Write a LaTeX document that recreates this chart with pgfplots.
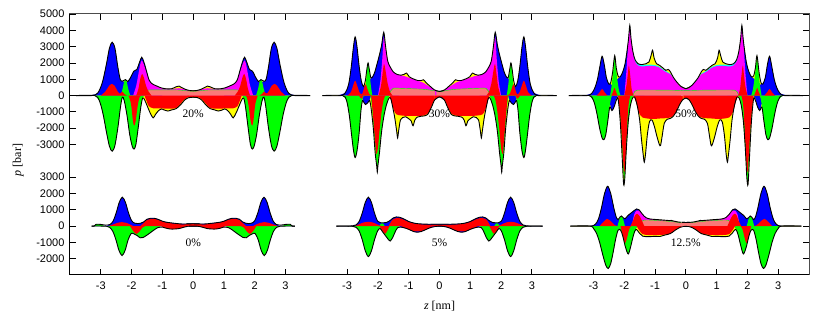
\documentclass[border=0pt]{standalone}
\usepackage{fontspec}
\setmainfont{Liberation Serif}
\setsansfont{Liberation Sans}
\usepackage{pgfplots}
\pgfplotsset{compat=1.18}
\definecolor{salmon}{RGB}{250,120,120}
\definecolor{cY}{RGB}{255,255,0}
\definecolor{cB}{RGB}{0,0,255}
\definecolor{cG}{RGB}{0,255,0}
\definecolor{cR}{RGB}{255,0,0}
\definecolor{cM}{RGB}{255,0,255}
\definecolor{cC}{RGB}{0,255,255}
\newcommand{\FL}[2]{\addplot[fill=#1,draw=none,smooth,tension=0.5] coordinates {#2} \closedcycle;}
\newcommand{\SL}[1]{\addplot[fill=salmon,draw=none,smooth,tension=0.5] coordinates {#1} \closedcycle;\addplot[cG,line width=0.4pt,smooth,tension=0.5] coordinates {#1};}
\newcommand{\OL}[1]{\addplot[black,line width=0.9pt,smooth,tension=0.5] coordinates {#1};}
\pgfplotsset{ov/.style={at={(0,0)},anchor=south west,scale only axis,width=739pt,height=261pt,hide axis,clip=false}}

% ---------- 20% ----------
\newcommand{\PA}{%
\FL{cY}{(-3.8,0)(-3.3,0)(-3.1,150)(-2.95,800)(-2.82,1900)(-2.72,2900)(-2.63,3270)(-2.54,2900)(-2.45,1800)(-2.37,1000)(-2.3,880)(-2.2,980)(-2.12,860)(-2.02,1150)(-1.93,1490)(-1.83,1600)(-1.74,2050)(-1.67,2350)(-1.6,2050)(-1.53,1600)(-1.43,950)(-1.33,720)(-1.2,600)(-1.05,480)(-0.9,420)(-0.7,420)(-0.55,540)(-0.46,580)(-0.36,480)(-0.25,380)(-0.12,310)(0,290)(0.12,310)}
\FL{cY}{(-3.8,0)(-3.2,0)(-3.05,-300)(-2.93,-1100)(-2.82,-2200)(-2.72,-3100)(-2.63,-3410)(-2.54,-3050)(-2.44,-1900)(-2.36,-700)(-2.3,-100)(-2.24,-300)(-2.15,-1200)(-2.06,-2400)(-1.98,-3100)(-1.92,-3280)(-1.86,-3000)(-1.78,-1900)(-1.7,-700)(-1.64,-150)(-1.58,-250)(-1.5,-600)(-1.4,-1050)(-1.3,-1370)(-1.22,-1150)(-1.12,-920)(-1.02,-820)(-0.92,-900)(-0.82,-950)(-0.7,-880)(-0.55,-800)(-0.4,-550)(-0.28,-280)(-0.15,-130)(0,-100)(0.15,-130)}
\FL{cB}{(-3.4,0)(-3.1,150)(-2.95,800)(-2.82,1900)(-2.72,2900)(-2.63,3270)(-2.54,2900)(-2.45,1800)(-2.37,1000)(-2.3,880)(-2.2,820)(-2.12,860)(-2.02,1150)(-1.93,1490)(-1.83,1600)(-1.74,2050)(-1.67,2350)(-1.6,2050)(-1.53,1600)(-1.43,900)(-1.33,600)(-1.2,300)(-1.0,0)}
\FL{cM}{(-1.95,0)(-1.85,600)(-1.78,1300)(-1.72,1900)(-1.67,2150)(-1.61,1950)(-1.53,1500)(-1.43,930)(-1.33,710)(-1.2,590)(-1.05,470)(-0.9,410)(-0.7,410)(-0.55,440)(-0.46,450)(-0.36,420)(-0.25,370)(-0.12,305)(0,285)(0.12,305)}
\FL{cG}{(-2.36,0)(-2.3,350)(-2.24,850)(-2.2,980)(-2.16,850)(-2.1,350)(-2.04,0)}
\FL{cG}{(-3.2,0)(-3.05,-300)(-2.93,-1100)(-2.82,-2200)(-2.72,-3100)(-2.63,-3410)(-2.54,-3050)(-2.44,-1900)(-2.36,-700)(-2.3,-100)(-2.24,-300)(-2.15,-1200)(-2.06,-2400)(-1.98,-3100)(-1.92,-3280)(-1.86,-3000)(-1.78,-1900)(-1.7,-700)(-1.64,-150)(-1.58,0)}
\SL{(-1.6,0)(-1.52,250)(-1.45,340)(-1.2,350)(-0.8,350)(-0.5,340)(-0.3,310)(-0.15,280)(0,270)(0.15,280)}
\FL{cR}{(-3.0,0)(-2.85,250)(-2.72,620)(-2.63,710)(-2.55,600)(-2.45,250)(-2.38,120)(-2.3,245)(-2.24,100)(-2.15,0)}
\FL{cR}{(-1.85,0)(-1.78,400)(-1.72,1000)(-1.66,1330)(-1.6,1100)(-1.53,600)(-1.45,250)(-1.35,0)}
\FL{cR}{(-2.1,0)(-2.02,-500)(-1.96,-1500)(-1.92,-1840)(-1.87,-1600)(-1.8,-600)(-1.74,-100)(-1.68,0)}
\FL{cR}{(-1.58,0)(-1.52,-300)(-1.44,-650)(-1.3,-780)(-1.1,-780)(-0.9,-800)(-0.7,-800)(-0.55,-760)(-0.42,-520)(-0.3,-260)(-0.18,-110)(0,-80)(0.18,-110)}
\OL{(-3.8,0)(-3.3,0)(-3.1,150)(-2.95,800)(-2.82,1900)(-2.72,2900)(-2.63,3270)(-2.54,2900)(-2.45,1800)(-2.37,1000)(-2.3,880)(-2.2,980)(-2.12,860)(-2.02,1150)(-1.93,1490)(-1.83,1600)(-1.74,2050)(-1.67,2350)(-1.6,2050)(-1.53,1600)(-1.43,950)(-1.33,720)(-1.2,600)(-1.05,480)(-0.9,420)(-0.7,420)(-0.55,540)(-0.46,580)(-0.36,480)(-0.25,380)(-0.12,310)(0,290)(0.12,310)}
\OL{(-3.8,0)(-3.2,0)(-3.05,-300)(-2.93,-1100)(-2.82,-2200)(-2.72,-3100)(-2.63,-3410)(-2.54,-3050)(-2.44,-1900)(-2.36,-700)(-2.3,-100)(-2.24,-300)(-2.15,-1200)(-2.06,-2400)(-1.98,-3100)(-1.92,-3280)(-1.86,-3000)(-1.78,-1900)(-1.7,-700)(-1.64,-150)(-1.58,-250)(-1.5,-600)(-1.4,-1050)(-1.3,-1370)(-1.22,-1150)(-1.12,-920)(-1.02,-820)(-0.92,-900)(-0.82,-950)(-0.7,-880)(-0.55,-800)(-0.4,-550)(-0.28,-280)(-0.15,-130)(0,-100)(0.15,-130)}
}

% ---------- 30% ----------
\newcommand{\PB}{%
\FL{cY}{(-3.8,0)(-3.2,0)(-3.05,200)(-2.95,700)(-2.87,1700)(-2.8,2900)(-2.74,3600)(-2.68,3000)(-2.61,1800)(-2.54,900)(-2.47,550)(-2.41,900)(-2.36,1600)(-2.32,2000)(-2.28,1600)(-2.23,1100)(-2.17,1150)(-2.1,1450)(-2.02,2000)(-1.95,2500)(-1.88,3100)(-1.81,3880)(-1.75,3000)(-1.68,2100)(-1.6,1750)(-1.5,1450)(-1.38,1300)(-1.25,1250)(-1.15,1300)(-1.07,1380)(-0.98,1150)(-0.85,1020)(-0.7,920)(-0.6,920)(-0.52,970)(-0.44,800)(-0.3,560)(-0.15,330)(0,250)(0.15,330)}
\FL{cY}{(-3.8,0)(-3.15,0)(-3.02,-300)(-2.93,-1200)(-2.85,-2500)(-2.79,-3400)(-2.74,-3800)(-2.68,-3400)(-2.61,-2300)(-2.55,-900)(-2.5,-300)(-2.45,-450)(-2.4,-550)(-2.33,-450)(-2.27,-300)(-2.22,-800)(-2.15,-2000)(-2.09,-3500)(-2.04,-4300)(-2.02,-4700)(-2.0,-4300)(-1.95,-3500)(-1.88,-2200)(-1.8,-1200)(-1.72,-550)(-1.64,-150)(-1.58,-200)(-1.5,-900)(-1.45,-1400)(-1.39,-2200)(-1.36,-2600)(-1.33,-2200)(-1.27,-1500)(-1.2,-1350)(-1.1,-1300)(-0.98,-1450)(-0.92,-1550)(-0.86,-1850)(-0.8,-1500)(-0.72,-1320)(-0.6,-1270)(-0.5,-1250)(-0.38,-1150)(-0.27,-750)(-0.15,-250)(0,-80)(0.15,-250)}
\FL{cB}{(-3.3,0)(-3.05,200)(-2.95,700)(-2.87,1700)(-2.8,2900)(-2.74,3600)(-2.68,3000)(-2.61,1800)(-2.54,900)(-2.47,550)(-2.41,600)(-2.35,700)(-2.28,800)(-2.23,1100)(-2.17,1150)(-2.1,1450)(-2.02,2000)(-1.95,2500)(-1.88,3100)(-1.81,3880)(-1.76,2700)(-1.69,1800)(-1.6,1400)(-1.5,1000)(-1.4,500)(-1.3,0)}
\FL{cB}{(-2.55,0)(-2.5,-200)(-2.45,-450)(-2.4,-550)(-2.33,-450)(-2.27,-250)(-2.22,0)}
\FL{cM}{(-2.0,0)(-1.92,900)(-1.86,2200)(-1.81,3600)(-1.76,2950)(-1.68,2100)(-1.6,1750)(-1.5,1450)(-1.38,1300)(-1.25,1240)(-1.15,1200)(-1.07,1150)(-0.98,1080)(-0.85,1000)(-0.7,900)(-0.6,850)(-0.52,780)(-0.44,680)(-0.3,520)(-0.15,330)(0,250)(0.15,330)}
\FL{cG}{(-2.45,0)(-2.4,500)(-2.36,1500)(-2.32,2000)(-2.28,1500)(-2.23,600)(-2.18,0)}
\FL{cG}{(-3.15,0)(-3.02,-300)(-2.93,-1200)(-2.85,-2500)(-2.79,-3400)(-2.74,-3800)(-2.68,-3400)(-2.61,-2300)(-2.55,-900)(-2.5,-200)(-2.45,0)}
\FL{cG}{(-2.25,0)(-2.2,-600)(-2.14,-2000)(-2.08,-3400)(-2.03,-4400)(-2.0,-4200)(-1.95,-3400)(-1.88,-2150)(-1.8,-1150)(-1.72,-520)(-1.65,-100)(-1.6,0)}
\SL{(-1.65,0)(-1.58,300)(-1.5,450)(-1.2,440)(-0.8,410)(-0.5,380)(-0.25,320)(-0.1,260)(0,230)(0.1,260)}
\FL{cR}{(-3.0,0)(-2.88,200)(-2.8,650)(-2.74,920)(-2.68,650)(-2.6,200)(-2.52,80)(-2.45,450)(-2.4,700)(-2.35,450)(-2.28,100)(-2.2,0)}
\FL{cR}{(-1.98,0)(-1.9,600)(-1.84,1500)(-1.8,1940)(-1.75,1500)(-1.68,700)(-1.6,200)(-1.52,0)}
\FL{cR}{(-2.62,0)(-2.56,-150)(-2.52,-200)(-2.48,0)}
\FL{cR}{(-2.22,0)(-2.16,-1200)(-2.1,-2600)(-2.05,-3580)(-2.0,-3200)(-1.95,-2200)(-1.88,-1000)(-1.82,-300)(-1.76,0)}
\FL{cR}{(-1.62,0)(-1.56,-400)(-1.48,-900)(-1.4,-1150)(-1.25,-1220)(-1.0,-1250)(-0.7,-1250)(-0.5,-1220)(-0.38,-1100)(-0.27,-700)(-0.15,-230)(0,-70)(0.15,-230)}
\OL{(-3.8,0)(-3.2,0)(-3.05,200)(-2.95,700)(-2.87,1700)(-2.8,2900)(-2.74,3600)(-2.68,3000)(-2.61,1800)(-2.54,900)(-2.47,550)(-2.41,900)(-2.36,1600)(-2.32,2000)(-2.28,1600)(-2.23,1100)(-2.17,1150)(-2.1,1450)(-2.02,2000)(-1.95,2500)(-1.88,3100)(-1.81,3880)(-1.75,3000)(-1.68,2100)(-1.6,1750)(-1.5,1450)(-1.38,1300)(-1.25,1250)(-1.15,1300)(-1.07,1380)(-0.98,1150)(-0.85,1020)(-0.7,920)(-0.6,920)(-0.52,970)(-0.44,800)(-0.3,560)(-0.15,330)(0,250)(0.15,330)}
\OL{(-3.8,0)(-3.15,0)(-3.02,-300)(-2.93,-1200)(-2.85,-2500)(-2.79,-3400)(-2.74,-3800)(-2.68,-3400)(-2.61,-2300)(-2.55,-900)(-2.5,-300)(-2.45,-450)(-2.4,-550)(-2.33,-450)(-2.27,-300)(-2.22,-800)(-2.15,-2000)(-2.09,-3500)(-2.04,-4300)(-2.02,-4700)(-2.0,-4300)(-1.95,-3500)(-1.88,-2200)(-1.8,-1200)(-1.72,-550)(-1.64,-150)(-1.58,-200)(-1.5,-900)(-1.45,-1400)(-1.39,-2200)(-1.36,-2600)(-1.33,-2200)(-1.27,-1500)(-1.2,-1350)(-1.1,-1300)(-0.98,-1450)(-0.92,-1550)(-0.86,-1850)(-0.8,-1500)(-0.72,-1320)(-0.6,-1270)(-0.5,-1250)(-0.38,-1150)(-0.27,-750)(-0.15,-250)(0,-80)(0.15,-250)}
}

% ---------- 50% ----------
\newcommand{\PC}{%
\FL{cY}{(-3.8,0)(-3.2,0)(-3.05,150)(-2.95,500)(-2.87,1000)(-2.79,1800)(-2.72,2410)(-2.65,1900)(-2.58,1100)(-2.5,700)(-2.44,800)(-2.38,1400)(-2.31,2450)(-2.26,1700)(-2.2,1200)(-2.13,1150)(-2.05,1450)(-1.98,1900)(-1.92,2600)(-1.86,3500)(-1.82,4300)(-1.78,3500)(-1.72,2700)(-1.65,2200)(-1.55,1950)(-1.42,1900)(-1.3,1950)(-1.2,2050)(-1.13,2450)(-1.08,2780)(-1.03,2300)(-0.95,1950)(-0.85,1850)(-0.75,1700)(-0.65,1550)(-0.57,1600)(-0.5,1450)(-0.4,1100)(-0.28,800)(-0.15,550)(0,420)(0.15,550)}
\FL{cY}{(-3.8,0)(-3.15,0)(-3.0,-300)(-2.9,-1000)(-2.8,-2000)(-2.72,-2600)(-2.66,-2700)(-2.6,-2400)(-2.53,-1500)(-2.47,-700)(-2.4,-920)(-2.33,-700)(-2.26,-300)(-2.2,-200)(-2.13,-1600)(-2.07,-3700)(-2.03,-5200)(-2.01,-5500)(-1.98,-5000)(-1.93,-3200)(-1.87,-1600)(-1.8,-600)(-1.73,-150)(-1.66,-100)(-1.58,-600)(-1.5,-1500)(-1.44,-2700)(-1.38,-3700)(-1.35,-4090)(-1.31,-3600)(-1.25,-2400)(-1.18,-1600)(-1.1,-1500)(-1.02,-1900)(-0.94,-2500)(-0.86,-3000)(-0.82,-3050)(-0.77,-2500)(-0.7,-1700)(-0.6,-1450)(-0.5,-1400)(-0.4,-1250)(-0.3,-950)(-0.2,-550)(-0.1,-250)(0,-150)(0.1,-250)}
\FL{cB}{(-3.3,0)(-3.05,150)(-2.95,500)(-2.87,1000)(-2.79,1800)(-2.72,2410)(-2.65,1900)(-2.58,1100)(-2.5,700)(-2.44,700)(-2.38,600)(-2.3,700)(-2.23,1000)(-2.13,1150)(-2.05,1450)(-1.98,1900)(-1.92,2600)(-1.86,3500)(-1.82,4300)(-1.78,3400)(-1.72,2400)(-1.65,1800)(-1.55,1300)(-1.45,700)(-1.35,0)}
\FL{cB}{(-2.55,0)(-2.48,-400)(-2.4,-920)(-2.33,-700)(-2.26,-200)(-2.2,0)}
\FL{cC}{(-1.72,2650)(-1.65,2180)(-1.55,1940)(-1.42,1880)(-1.3,1890)(-1.2,1900)(-1.1,1890)(-1.0,1870)(-0.9,1810)(-0.8,1710)(-0.7,1560)(-0.6,1460)(-0.5,1340)(-0.4,1050)(-0.28,780)}
\FL{cM}{(-2.0,0)(-1.93,1500)(-1.87,3300)(-1.82,4150)(-1.78,3450)(-1.72,2650)(-1.65,2100)(-1.55,1850)(-1.42,1780)(-1.3,1800)(-1.2,1820)(-1.1,1820)(-1.0,1800)(-0.9,1750)(-0.8,1650)(-0.7,1500)(-0.6,1400)(-0.5,1300)(-0.4,1050)(-0.28,780)(-0.15,530)(0,400)(0.15,530)}
\FL{cG}{(-2.46,0)(-2.41,600)(-2.36,1500)(-2.31,2400)(-2.27,1700)(-2.22,900)(-2.17,300)(-2.12,0)}
\FL{cG}{(-3.15,0)(-3.0,-300)(-2.9,-1000)(-2.8,-2000)(-2.72,-2600)(-2.66,-2700)(-2.6,-2400)(-2.53,-1500)(-2.47,-600)(-2.42,-100)(-2.38,0)}
\FL{cG}{(-2.18,0)(-2.12,-1500)(-2.06,-3500)(-2.02,-5000)(-2.0,-5300)(-1.97,-4500)(-1.92,-3000)(-1.86,-1500)(-1.8,-600)(-1.74,-100)(-1.7,0)}
\SL{(-1.72,0)(-1.66,250)(-1.58,330)(-1.2,340)(-0.6,330)(-0.3,320)(0,300)(0.15,320)}
\FL{cR}{(-2.9,0)(-2.8,200)(-2.72,410)(-2.64,200)(-2.55,0)}
\FL{cR}{(-2.42,0)(-2.36,250)(-2.32,470)(-2.28,300)(-2.22,0)}
\FL{cR}{(-2.0,0)(-1.93,600)(-1.88,1400)(-1.85,1840)(-1.81,1300)(-1.76,400)(-1.7,0)}
\FL{cR}{(-2.2,0)(-2.12,-1500)(-2.06,-3200)(-2.02,-4400)(-1.99,-4700)(-1.96,-4000)(-1.92,-2500)(-1.88,-1000)(-1.84,-300)(-1.8,0)}
\FL{cR}{(-1.7,0)(-1.62,-400)(-1.55,-900)(-1.48,-1200)(-1.4,-1350)(-1.2,-1420)(-1.0,-1430)(-0.8,-1400)(-0.6,-1380)(-0.45,-1300)(-0.35,-1100)(-0.27,-800)(-0.18,-450)(-0.08,-200)(0,-130)(0.08,-200)}
\OL{(-3.8,0)(-3.2,0)(-3.05,150)(-2.95,500)(-2.87,1000)(-2.79,1800)(-2.72,2410)(-2.65,1900)(-2.58,1100)(-2.5,700)(-2.44,800)(-2.38,1400)(-2.31,2450)(-2.26,1700)(-2.2,1200)(-2.13,1150)(-2.05,1450)(-1.98,1900)(-1.92,2600)(-1.86,3500)(-1.82,4300)(-1.78,3500)(-1.72,2700)(-1.65,2200)(-1.55,1950)(-1.42,1900)(-1.3,1950)(-1.2,2050)(-1.13,2450)(-1.08,2780)(-1.03,2300)(-0.95,1950)(-0.85,1850)(-0.75,1700)(-0.65,1550)(-0.57,1600)(-0.5,1450)(-0.4,1100)(-0.28,800)(-0.15,550)(0,420)(0.15,550)}
\OL{(-3.8,0)(-3.15,0)(-3.0,-300)(-2.9,-1000)(-2.8,-2000)(-2.72,-2600)(-2.66,-2700)(-2.6,-2400)(-2.53,-1500)(-2.47,-700)(-2.4,-920)(-2.33,-700)(-2.26,-300)(-2.2,-200)(-2.13,-1600)(-2.07,-3700)(-2.03,-5200)(-2.01,-5500)(-1.98,-5000)(-1.93,-3200)(-1.87,-1600)(-1.8,-600)(-1.73,-150)(-1.66,-100)(-1.58,-600)(-1.5,-1500)(-1.44,-2700)(-1.38,-3700)(-1.35,-4090)(-1.31,-3600)(-1.25,-2400)(-1.18,-1600)(-1.1,-1500)(-1.02,-1900)(-0.94,-2500)(-0.86,-3000)(-0.82,-3050)(-0.77,-2500)(-0.7,-1700)(-0.6,-1450)(-0.5,-1400)(-0.4,-1250)(-0.3,-950)(-0.2,-550)(-0.1,-250)(0,-150)(0.1,-250)}
}

% ---------- 0% ----------
\newcommand{\PD}{%
\FL{cB}{(-3.3,0)(-2.95,0)(-2.8,20)(-2.7,80)(-2.6,305)(-2.5,810)(-2.4,1456)(-2.3,1770)(-2.2,1456)(-2.1,810)(-2.0,330)(-1.9,180)(-1.8,150)(-1.7,180)(-1.6,260)(-1.5,420)(-1.38,480)(-1.28,480)(-1.15,420)(-1.0,300)(-0.85,230)(-0.6,170)(-0.4,130)(-0.2,130)(0,140)(0.2,130)}
\FL{cG}{(-3.22,0)(-3.15,110)(-3.0,100)(-2.9,0)}
\FL{cG}{(-2.95,0)(-2.81,-15)(-2.71,-80)(-2.61,-320)(-2.51,-830)(-2.41,-1490)(-2.31,-1810)(-2.21,-1490)(-2.11,-830)(-2.01,-450)(-1.92,-480)(-1.82,-580)(-1.72,-720)(-1.62,-700)(-1.52,-580)(-1.4,-420)(-1.28,-250)(-1.15,-100)(-1.05,0)}
\FL{cR}{(-2.75,0)(-2.6,100)(-2.45,200)(-2.31,240)(-2.18,200)(-2.05,100)(-1.95,0)}
\FL{cR}{(-1.72,0)(-1.6,200)(-1.5,380)(-1.38,440)(-1.28,440)(-1.15,390)(-1.0,280)(-0.85,210)(-0.6,150)(-0.4,110)(-0.2,115)(0,130)(0.2,115)}
\FL{cR}{(-2.05,0)(-1.95,-300)(-1.85,-480)(-1.75,-350)(-1.65,-100)(-1.55,0)}
\FL{cR}{(-1.05,0)(-0.9,-120)(-0.75,-180)(-0.6,-180)(-0.45,-150)(-0.3,-70)(-0.15,0)}
\OL{(-3.3,0)(-3.22,0)(-3.15,110)(-3.0,100)(-2.85,60)(-2.7,100)(-2.6,305)(-2.5,810)(-2.4,1456)(-2.3,1770)(-2.2,1456)(-2.1,810)(-2.0,330)(-1.9,180)(-1.8,150)(-1.7,180)(-1.6,260)(-1.5,420)(-1.38,480)(-1.28,480)(-1.15,420)(-1.0,300)(-0.85,230)(-0.6,170)(-0.4,130)(-0.2,130)(0,140)(0.2,130)}
\OL{(-3.3,0)(-2.95,0)(-2.81,-15)(-2.71,-80)(-2.61,-320)(-2.51,-830)(-2.41,-1490)(-2.31,-1810)(-2.21,-1490)(-2.11,-830)(-2.01,-450)(-1.92,-480)(-1.82,-580)(-1.72,-720)(-1.62,-700)(-1.52,-580)(-1.4,-420)(-1.28,-250)(-1.15,-100)(-1.0,-60)(-0.9,-120)(-0.75,-180)(-0.6,-180)(-0.45,-150)(-0.3,-70)(-0.15,-10)(0,0)(0.15,-10)}
}

% ---------- 5% ----------
\newcommand{\PE}{%
\FL{cB}{(-3.35,0)(-2.95,0)(-2.81,20)(-2.71,70)(-2.61,285)(-2.51,790)(-2.41,1450)(-2.31,1770)(-2.21,1450)(-2.11,790)(-2.01,300)(-1.91,200)(-1.82,200)(-1.72,220)(-1.6,350)(-1.5,500)(-1.4,560)(-1.3,540)(-1.15,430)(-1.0,280)(-0.8,170)(-0.6,130)(-0.3,110)(0,110)(0.3,110)}
\FL{cB}{(-1.36,0)(-1.2,-80)(-1.0,-200)(-0.85,-330)(-0.72,-380)(-0.6,-340)(-0.45,-220)(-0.3,-100)(-0.15,-30)(0,0)(0.15,-30)}
\FL{cG}{(-1.96,0)(-1.9,150)(-1.84,170)(-1.78,0)}
\FL{cG}{(-2.95,0)(-2.81,-20)(-2.71,-80)(-2.61,-300)(-2.51,-830)(-2.41,-1520)(-2.31,-1870)(-2.21,-1520)(-2.11,-830)(-2.01,-300)(-1.93,-150)(-1.85,-350)(-1.75,-600)(-1.65,-850)(-1.6,-920)(-1.52,-700)(-1.45,-400)(-1.36,-100)(-1.3,0)}
\FL{cR}{(-2.75,0)(-2.6,120)(-2.45,230)(-2.31,260)(-2.17,220)(-2.02,100)(-1.9,0)}
\FL{cR}{(-1.65,0)(-1.58,250)(-1.5,430)(-1.4,490)(-1.3,480)(-1.15,380)(-1.0,250)(-0.8,150)(-0.6,110)(-0.3,90)(0,90)(0.3,90)}
\FL{cR}{(-1.95,0)(-1.85,-300)(-1.77,-480)(-1.7,-300)(-1.62,0)}
\FL{cR}{(-1.25,0)(-1.1,-120)(-0.95,-250)(-0.8,-320)(-0.65,-320)(-0.5,-250)(-0.35,-120)(-0.2,-20)(-0.1,0)}
\OL{(-3.35,0)(-2.95,0)(-2.81,20)(-2.71,70)(-2.61,285)(-2.51,790)(-2.41,1450)(-2.31,1770)(-2.21,1450)(-2.11,790)(-2.01,300)(-1.91,200)(-1.82,200)(-1.72,220)(-1.6,350)(-1.5,500)(-1.4,560)(-1.3,540)(-1.15,430)(-1.0,280)(-0.8,170)(-0.6,130)(-0.3,110)(0,110)(0.3,110)}
\OL{(-3.35,0)(-2.95,0)(-2.81,-20)(-2.71,-80)(-2.61,-300)(-2.51,-830)(-2.41,-1520)(-2.31,-1870)(-2.21,-1520)(-2.11,-830)(-2.01,-300)(-1.93,-150)(-1.85,-350)(-1.75,-600)(-1.65,-850)(-1.6,-920)(-1.52,-700)(-1.45,-400)(-1.36,-100)(-1.2,-80)(-1.0,-200)(-0.85,-330)(-0.72,-380)(-0.6,-340)(-0.45,-220)(-0.3,-100)(-0.15,-30)(0,0)(0.15,-30)}
}

% ---------- 12.5% ----------
\newcommand{\PF}{%
\FL{cY}{(-3.75,0)(-3.1,0)(-2.94,110)(-2.84,430)(-2.74,1120)(-2.64,2000)(-2.54,2440)(-2.44,2000)(-2.34,1120)(-2.26,550)(-2.2,400)(-2.14,550)(-2.09,620)(-2.03,500)(-1.97,450)(-1.88,650)(-1.78,800)(-1.68,950)(-1.6,1050)(-1.52,1000)(-1.42,750)(-1.3,520)(-1.15,430)(-0.95,400)(-0.75,370)(-0.55,340)(-0.47,345)(-0.38,300)(-0.25,250)(-0.12,225)(0,220)(0.12,225)}
\FL{cY}{(-3.75,0)(-3.1,0)(-3.0,-150)(-2.9,-450)(-2.8,-1000)(-2.7,-1750)(-2.6,-2400)(-2.52,-2600)(-2.44,-2300)(-2.36,-1600)(-2.28,-800)(-2.2,-250)(-2.12,-250)(-2.05,-600)(-1.96,-1300)(-1.87,-1710)(-1.79,-1250)(-1.7,-550)(-1.62,-200)(-1.5,-450)(-1.4,-620)(-1.2,-650)(-1.0,-630)(-0.85,-640)(-0.7,-560)(-0.5,-460)(-0.35,-260)(-0.2,-90)(-0.1,-30)(0,-20)(0.1,-30)}
\FL{cB}{(-3.1,0)(-2.94,110)(-2.84,430)(-2.74,1120)(-2.64,2000)(-2.54,2440)(-2.44,2000)(-2.34,1120)(-2.26,550)(-2.2,400)(-2.14,450)(-2.09,450)(-2.03,500)(-1.97,450)(-1.88,650)(-1.78,800)(-1.68,950)(-1.6,1050)(-1.52,1000)(-1.42,700)(-1.3,400)(-1.15,0)}
\FL{cM}{(-1.75,0)(-1.68,700)(-1.6,950)(-1.52,950)(-1.42,740)(-1.3,510)(-1.15,430)(-0.95,400)(-0.75,360)(-0.55,320)(-0.45,310)(-0.3,260)(-0.15,225)(0,215)(0.15,225)}
\FL{cG}{(-2.22,0)(-2.16,400)(-2.1,620)(-2.04,450)(-1.98,0)}
\FL{cG}{(-3.1,0)(-3.0,-150)(-2.9,-450)(-2.8,-1000)(-2.7,-1750)(-2.6,-2400)(-2.52,-2600)(-2.44,-2300)(-2.36,-1600)(-2.28,-800)(-2.2,-250)(-2.12,-250)(-2.05,-600)(-1.96,-1300)(-1.87,-1710)(-1.79,-1250)(-1.7,-550)(-1.62,-150)(-1.55,0)}
\SL{(-1.5,0)(-1.42,300)(-1.3,370)(-1.0,350)(-0.6,300)(-0.3,240)(0,200)(0.15,220)}
\FL{cR}{(-2.8,0)(-2.68,250)(-2.56,440)(-2.44,300)(-2.3,50)(-2.2,0)}
\FL{cR}{(-1.8,0)(-1.72,300)(-1.65,650)(-1.58,750)(-1.5,600)(-1.42,300)(-1.35,0)}
\FL{cR}{(-2.12,0)(-2.06,-500)(-1.98,-1050)(-1.92,-800)(-1.84,-200)(-1.78,0)}
\FL{cR}{(-1.6,0)(-1.5,-300)(-1.4,-500)(-1.2,-550)(-0.9,-550)(-0.65,-520)(-0.5,-450)(-0.35,-250)(-0.2,-80)(-0.1,0)}
\OL{(-3.75,0)(-3.1,0)(-2.94,110)(-2.84,430)(-2.74,1120)(-2.64,2000)(-2.54,2440)(-2.44,2000)(-2.34,1120)(-2.26,550)(-2.2,400)(-2.14,550)(-2.09,620)(-2.03,500)(-1.97,450)(-1.88,650)(-1.78,800)(-1.68,950)(-1.6,1050)(-1.52,1000)(-1.42,750)(-1.3,520)(-1.15,430)(-0.95,400)(-0.75,370)(-0.55,340)(-0.47,345)(-0.38,300)(-0.25,250)(-0.12,225)(0,220)(0.12,225)}
\OL{(-3.75,0)(-3.1,0)(-3.0,-150)(-2.9,-450)(-2.8,-1000)(-2.7,-1750)(-2.6,-2400)(-2.52,-2600)(-2.44,-2300)(-2.36,-1600)(-2.28,-800)(-2.2,-250)(-2.12,-250)(-2.05,-600)(-1.96,-1300)(-1.87,-1710)(-1.79,-1250)(-1.7,-550)(-1.62,-200)(-1.5,-450)(-1.4,-620)(-1.2,-650)(-1.0,-630)(-0.85,-640)(-0.7,-560)(-0.5,-460)(-0.35,-260)(-0.2,-90)(-0.1,-30)(0,-20)(0.1,-30)}
}

\begin{document}
\begin{tikzpicture}
\path[use as bounding box] (-70pt,-37pt) rectangle (760pt,275pt);
% upper row (baseline at 8000 of the frame)
\begin{axis}[ov,xmin=-4,xmax=20,ymin=-11000,ymax=5000]\PA\end{axis}
\begin{axis}[ov,xmin=-20,xmax=4,x dir=reverse,ymin=-11000,ymax=5000]\PA\end{axis}
\begin{axis}[ov,xmin=-12,xmax=12,ymin=-11000,ymax=5000]\PB\end{axis}
\begin{axis}[ov,xmin=-12,xmax=12,x dir=reverse,ymin=-11000,ymax=5000]\PB\end{axis}
\begin{axis}[ov,xmin=-20,xmax=4,ymin=-11000,ymax=5000]\PC\end{axis}
\begin{axis}[ov,xmin=-4,xmax=20,x dir=reverse,ymin=-11000,ymax=5000]\PC\end{axis}
% lower row
\begin{axis}[ov,xmin=-4,xmax=20,ymin=-3000,ymax=13000]\PD\end{axis}
\begin{axis}[ov,xmin=-20,xmax=4,x dir=reverse,ymin=-3000,ymax=13000]\PD\end{axis}
\begin{axis}[ov,xmin=-12,xmax=12,ymin=-3000,ymax=13000]\PE\end{axis}
\begin{axis}[ov,xmin=-12,xmax=12,x dir=reverse,ymin=-3000,ymax=13000]\PE\end{axis}
\begin{axis}[ov,xmin=-20,xmax=4,ymin=-3000,ymax=13000]\PF\end{axis}
\begin{axis}[ov,xmin=-4,xmax=20,x dir=reverse,ymin=-3000,ymax=13000]\PF\end{axis}
% frame
\begin{axis}[at={(0,0)},anchor=south west,scale only axis,width=739pt,height=261pt,
  xmin=-4,xmax=20,ymin=-3000,ymax=13000,clip=false,
  scaled x ticks=false, scaled y ticks=false,
  xtick={-3,-2,-1,0,1,2,3,5,6,7,8,9,10,11,13,14,15,16,17,18,19},
  xticklabels={-3,-2,-1,0,1,2,3,-3,-2,-1,0,1,2,3,-3,-2,-1,0,1,2,3},
  ytick={-2000,-1000,0,1000,2000,3000,5000,6000,7000,8000,9000,10000,11000,12000,13000},
  yticklabels={-2000,-1000,0,1000,2000,3000,-3000,-2000,-1000,0,1000,2000,3000,4000,5000},
  tick align=inside, major tick length=6pt, tick style={black,line width=0.8pt},
  axis line style={gray!60!black,line width=1pt},
  ticklabel style={font=\sffamily\fontsize{11}{13}\selectfont},
  yticklabel style={xshift=-2pt}, xticklabel style={yshift=-3pt},
  xlabel={\textit{z} [nm]}, ylabel={\textit{p} [bar]},
  xlabel style={at={(axis description cs:0.5,-0.119)},anchor=center,font=\fontsize{12}{14}\selectfont},
  ylabel style={at={(axis description cs:-0.07,0.44)},anchor=center,font=\fontsize{12}{14}\selectfont},
]
\draw[black,line width=1pt] (rel axis cs:0,1) -- (rel axis cs:0,0) -- (rel axis cs:1,0);
\node[font=\fontsize{11.5}{13}\selectfont] at (axis cs:0,6900) {20\%};
\node[font=\fontsize{11.5}{13}\selectfont] at (axis cs:8,6900) {30\%};
\node[font=\fontsize{11.5}{13}\selectfont] at (axis cs:16,6900) {50\%};
\node[font=\fontsize{11.5}{13}\selectfont] at (axis cs:0,-1030) {0\%};
\node[font=\fontsize{11.5}{13}\selectfont] at (axis cs:8,-1030) {5\%};
\node[font=\fontsize{11.5}{13}\selectfont] at (axis cs:16,-1030) {12.5\%};
\end{axis}
\end{tikzpicture}
\end{document}
